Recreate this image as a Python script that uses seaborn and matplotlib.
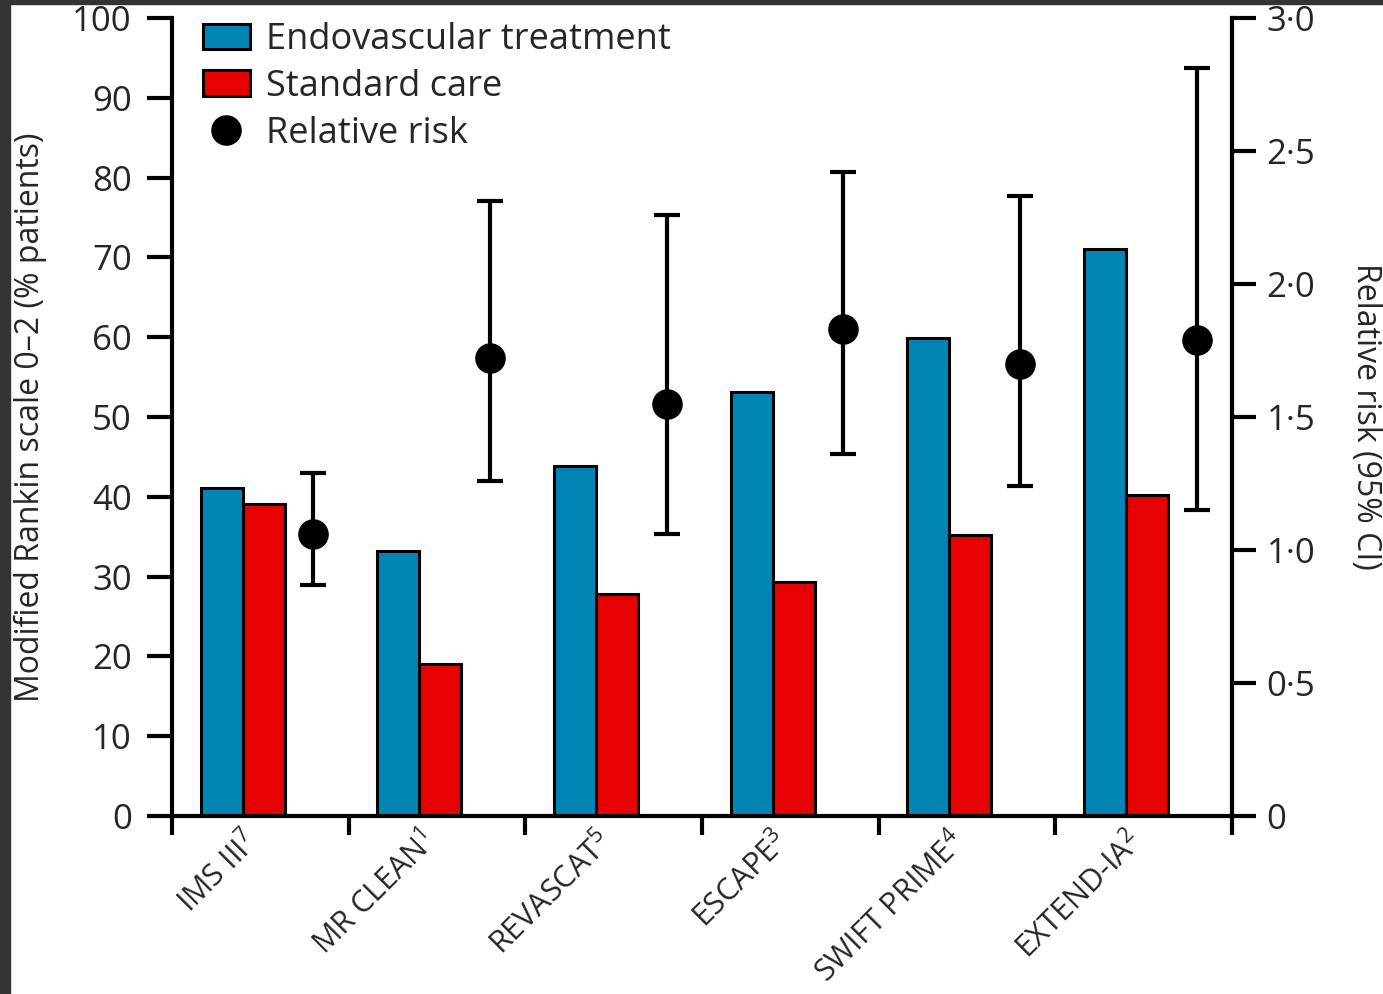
import numpy as np
import pandas as pd
import seaborn as sns
import matplotlib.pyplot as plt
from matplotlib.patches import Patch, Rectangle
from matplotlib.lines import Line2D
from matplotlib.ticker import FuncFormatter

# trials and values
trials = ["IMS III", "MR CLEAN", "REVASCAT", "ESCAPE", "SWIFT PRIME", "EXTEND-IA"]
refs = ["7", "1", "5", "3", "4", "2"]
endovascular = [41.1, 33.2, 43.8, 53.1, 59.9, 71.0]
standard_care = [39.1, 19.1, 27.8, 29.3, 35.2, 40.2]
rr = [1.06, 1.72, 1.55, 1.83, 1.70, 1.79]
rr_low = [0.87, 1.26, 1.06, 1.36, 1.24, 1.15]
rr_high = [1.29, 2.31, 2.26, 2.42, 2.33, 2.81]

BLUE = "#0085B5"
RED = "#E60000"

sns.set_theme(style="ticks")
plt.rcParams["font.family"] = ["Open Sans", "DejaVu Sans"]
plt.rcParams["mathtext.fontset"] = "custom"
plt.rcParams["mathtext.rm"] = "Open Sans"
plt.rcParams["mathtext.it"] = "Open Sans:italic"
plt.rcParams["mathtext.bf"] = "Open Sans:bold"

df = pd.DataFrame({
    "trial": trials * 2,
    "pct": endovascular + standard_care,
    "arm": ["Endovascular treatment"] * 6 + ["Standard care"] * 6,
})

fig = plt.figure(figsize=(13.83, 9.94), dpi=100)
ax = fig.add_axes([0.1244, 0.1791, 0.7664, 0.8029])

sns.barplot(data=df, x="trial", y="pct", hue="arm", palette=[BLUE, RED],
            width=0.476, edgecolor="black", linewidth=2.2, saturation=1,
            errorbar=None, legend=False, ax=ax)

n = len(trials)
ax.set_xlim(-0.4, n - 0.4)
ax.set_ylim(0, 100)
ax.set_yticks(range(0, 101, 10))
ax.set_xticks(np.arange(n + 1) - 0.4, labels=[""] * (n + 1))
ax.set_xticks(np.arange(n), labels=[f"{t}$^{{\\mathrm{{{r}}}}}$" for t, r in zip(trials, refs)],
              minor=True)
for lbl in ax.get_xticklabels(minor=True):
    lbl.set(rotation=45, ha="right", va="top", rotation_mode="anchor", fontsize=22)
ax.tick_params(axis="x", which="major", length=14, width=3, direction="out", color="black")
ax.tick_params(axis="x", which="minor", length=0, pad=7)
ax.tick_params(axis="y", length=18, width=3, direction="out", pad=11, labelsize=25,
               color="black")
ax.set_xlabel("")
ax.set_ylabel("Modified Rankin scale 0–2 (% patients)", fontsize=23)
ax.yaxis.set_label_coords(-0.118, 0.5)
for s in ["left", "bottom"]:
    ax.spines[s].set_linewidth(3)
    ax.spines[s].set_color("black")
ax.spines[["top", "right"]].set_visible(False)

ax2 = ax.twinx()
x_rr = np.arange(n) + 0.4
rr_arr = np.array(rr)
ax2.errorbar(x_rr, rr_arr, yerr=[rr_arr - np.array(rr_low), np.array(rr_high) - rr_arr],
             fmt="o", color="black", ms=21, elinewidth=3, capsize=9.7, capthick=3,
             zorder=3)
ax2.set_ylim(0, 3)
ax2.set_yticks([0, 0.5, 1, 1.5, 2, 2.5, 3])
ax2.yaxis.set_major_formatter(
    FuncFormatter(lambda v, p: "0" if v == 0 else f"{v:.1f}".replace(".", "·")))
ax2.tick_params(axis="y", length=17, width=3, direction="out", pad=8, labelsize=25,
                color="black")
ax2.spines[["top", "left", "bottom"]].set_visible(False)
ax2.spines["right"].set_linewidth(3)
ax2.spines["right"].set_color("black")
ax2.set_ylabel("Relative risk (95% CI)", fontsize=23, rotation=270, va="bottom")
ax2.yaxis.set_label_coords(1.11, 0.5)

handles = [
    Patch(facecolor=BLUE, edgecolor="black", linewidth=2.2, label="Endovascular treatment"),
    Patch(facecolor=RED, edgecolor="black", linewidth=2.2, label="Standard care"),
    Line2D([], [], marker="o", color="black", linestyle="none", markersize=21,
           label="Relative risk"),
]
ax2.legend(handles=handles, loc="upper left", bbox_to_anchor=(0.029, 0.995),
           frameon=False, fontsize=26, handlelength=1.3, handleheight=0.7,
           handletextpad=0.45, labelspacing=0.3, borderpad=0, borderaxespad=0)

# dark frame strips at the top and left edge
fig.add_artist(Rectangle((0, 1 - 4 / 994), 1, 4 / 994, transform=fig.transFigure,
                         color="#333333", zorder=10))
fig.add_artist(Rectangle((0, 0), 10 / 1383, 1, transform=fig.transFigure,
                         color="#333333", zorder=10))

fig.savefig("out.png", dpi=100)
